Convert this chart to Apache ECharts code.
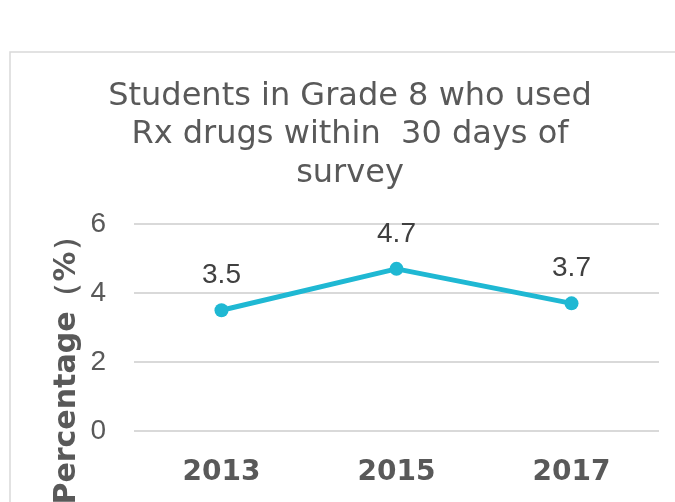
<!DOCTYPE html>
<html>
<head>
<meta charset="utf-8">
<script src="https://cdn.jsdelivr.net/npm/echarts@6/dist/echarts.min.js"></script>
<style>
html,body{margin:0;padding:0;background:#fff;}
#chart{width:675px;height:502px;}
</style>
</head>
<body>
<div id="chart"></div>
<script>
var titleText = "Students in Grade 8 who used\nRx drugs within  30 days of\nsurvey";
var yAxisTitle = "Percentage（%）";
var categories = ["2013", "2015", "2017"];
var values = [3.5, 4.7, 3.7];
var yTicks = { min: 0, max: 6, interval: 2 };

var chart = echarts.init(document.getElementById('chart'));
chart.setOption({
  animation: false,
  backgroundColor: '#ffffff',
  title: {
    text: titleText,
    left: 345,
    top: 72,
    textAlign: 'center',
    textStyle: {
      fontFamily: 'DejaVu Sans',
      fontSize: 32,
      fontWeight: 'normal',
      color: '#595959',
      lineHeight: 38.5
    }
  },
  graphic: [
    {
      type: 'rect',
      shape: { x: 10, y: 52, width: 700, height: 500 },
      style: { fill: 'none', stroke: '#d9d9d9', lineWidth: 1.5 },
      silent: true,
      z: -10
    },
    {
      type: 'text',
      x: 67,
      y: 363,
      rotation: Math.PI / 2,
      style: {
        text: yAxisTitle,
        fontFamily: 'DejaVu Sans',
        fontWeight: 'bold',
        fontSize: 30,
        fill: '#595959',
        align: 'center',
        verticalAlign: 'middle'
      }
    }
  ],
  grid: { left: 134, right: 16, top: 224, bottom: 71 },
  xAxis: {
    type: 'category',
    data: categories,
    boundaryGap: true,
    axisLine: { show: false },
    axisTick: { show: false },
    axisLabel: {
      margin: 28,
      fontFamily: 'DejaVu Sans',
      fontWeight: 'bold',
      fontSize: 28,
      color: '#595959'
    }
  },
  yAxis: {
    type: 'value',
    min: yTicks.min,
    max: yTicks.max,
    interval: yTicks.interval,
    axisLine: { show: false },
    axisTick: { show: false },
    axisLabel: {
      margin: 28,
      fontFamily: 'Liberation Sans',
      fontSize: 28,
      color: '#595959'
    },
    splitLine: { lineStyle: { color: '#d9d9d9', width: 2 } }
  },
  series: [{
    type: 'line',
    data: values,
    symbol: 'circle',
    symbolSize: 14,
    lineStyle: { color: '#1fb8d3', width: 5 },
    itemStyle: { color: '#1fb8d3' },
    label: {
      show: true,
      position: 'top',
      distance: 14,
      fontFamily: 'Liberation Sans',
      fontSize: 28,
      color: '#404040'
    }
  }]
});
</script>
</body>
</html>
